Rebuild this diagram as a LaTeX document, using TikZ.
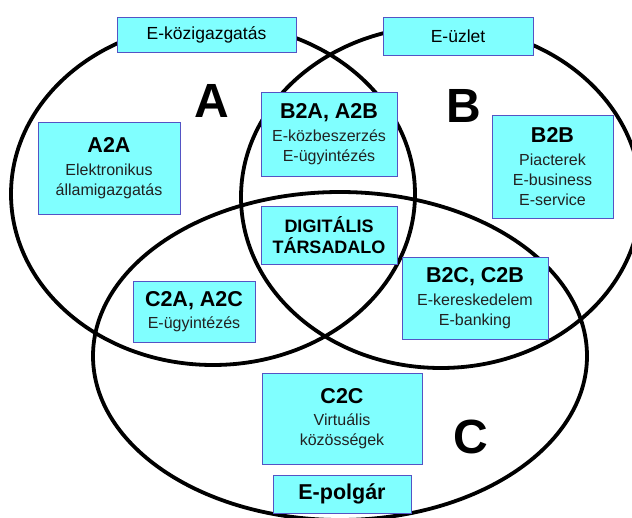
\documentclass[tikz,border=0pt]{standalone}
\usepackage{fontspec}
\setmainfont{Liberation Sans}
\definecolor{boxfill}{RGB}{128,255,255}
\definecolor{boxline}{RGB}{84,84,196}
\definecolor{subtext}{RGB}{34,34,34}
\newcommand\boxtitle[1]{{\fontsize{21.5}{22}\selectfont\bfseries\color{black}#1}}
\tikzset{
  setline/.style={line width=3.8pt, draw=black},
  infobox/.style={draw=boxline, fill=boxfill, line width=0.9pt, inner sep=0pt,
    align=center, text=subtext, font=\fontsize{16}{20}\selectfont},
  headbox/.style={infobox, text=black, font=\fontsize{17.5}{20}\selectfont},
  setletter/.style={anchor=base, inner sep=0pt, font=\fontsize{48}{48}\selectfont\bfseries}
}
\begin{document}
\begin{tikzpicture}[x=1pt, y=-1pt]
  \useasboundingbox (0,0) rectangle (632,517);
  \clip (0,0) rectangle (632,517);
  \fill[white] (0,0) rectangle (632,517);

  % the three sets
  \draw[setline] (213,194) ellipse [x radius=202pt, y radius=171pt];
  \draw[setline] (441,197) ellipse [x radius=200pt, y radius=171pt];
  \draw[setline] (340,356) ellipse [x radius=247pt, y radius=164pt];

  % set letters
  \node[setletter] (la) at (212,117) {A};
  \node[setletter] (lb) at (464,122) {B};
  \node[setletter] (lc) at (471,453) {C};

  % set names
  \node[headbox, minimum width=179pt, minimum height=35pt] (kozig) at (206.5,34.5) {E-közigazgatás};
  \node[headbox, minimum width=150pt, minimum height=38pt] (uzlet) at (458,36) {E-üzlet};
  \node[headbox, minimum width=138pt, minimum height=38pt,
        font=\fontsize{21.5}{22}\selectfont\bfseries] (polgar) at (342,494) {E-polgár};

  % relations
  \node[infobox, minimum width=142pt, minimum height=92pt] (a2a) at (109,168)
    {\boxtitle{A2A}\\[2.5pt] Elektronikus\\ államigazgatás};
  \node[infobox, minimum width=136pt, minimum height=84pt] (b2a) at (329,134)
    {\boxtitle{B2A, A2B}\\[2.5pt] E-közbeszerzés\\ E-ügyintézés};
  \node[infobox, minimum width=121pt, minimum height=103pt] (b2b) at (552.5,166.5)
    {\boxtitle{B2B}\\[2.5pt] Piacterek\\ E-business\\ E-service};
  \node[infobox, minimum width=136pt, minimum height=58pt, text=black,
        font=\fontsize{18}{21}\selectfont\bfseries] (dig) at (329,235)
    {DIGITÁLIS\\ TÁRSADALO};
  \node[infobox, minimum width=146pt, minimum height=82pt] (b2c) at (475,298)
    {\boxtitle{B2C, C2B}\\[2.5pt] E-kereskedelem\\ E-banking};
  \node[infobox, minimum width=122pt, minimum height=61pt] (c2a) at (194,311.5)
    {\boxtitle{C2A, A2C}\\[2.5pt] E-ügyintézés};
  \node[infobox, minimum width=160pt, minimum height=91pt] (c2c) at (342,418.5)
    {\boxtitle{C2C}\\[2.5pt] Virtuális\\ közösségek};
\end{tikzpicture}
\end{document}
